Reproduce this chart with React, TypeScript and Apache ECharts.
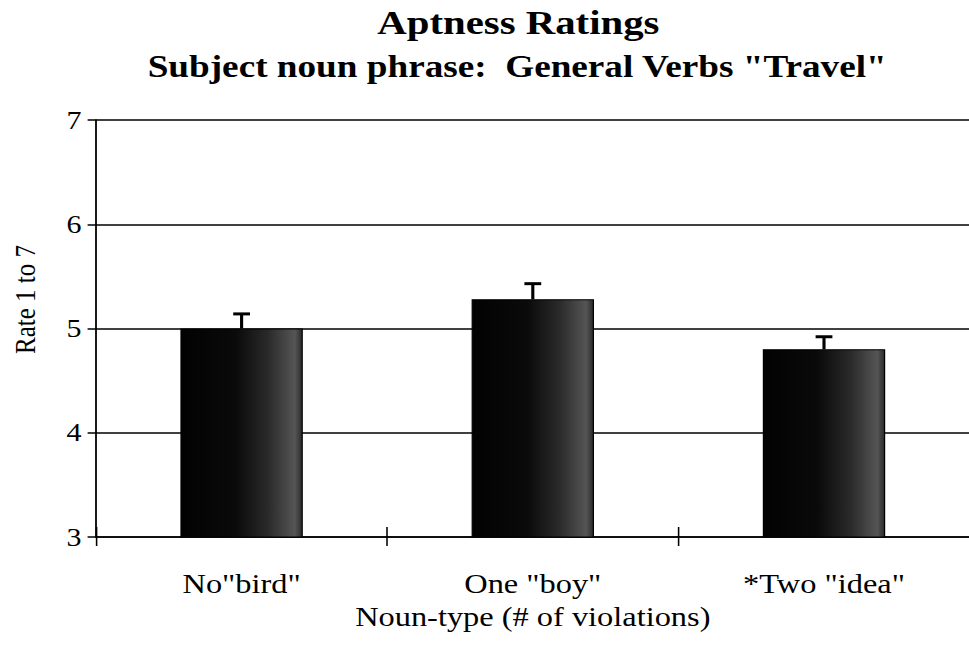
import React, { useEffect, useRef } from "react";
import * as echarts from "echarts";

const categories = ['No"bird"', 'One "boy"', '*Two "idea"'];
const means = [5.0, 5.28, 4.8];
const upperErrors = [5.14, 5.43, 4.92];
const yTicks = [3, 4, 5, 6, 7];

const titleLine1 = "Aptness Ratings";
const titleLine2 = 'Subject noun phrase:  General Verbs "Travel"';
const xName = "Noun-type (# of violations)";
const yName = "Rate 1 to 7";

const FONT = "'Liberation Serif', 'Times New Roman', serif";
// The reference image is horizontally stretched; reproduce it with a CSS scaleX.
const STRETCH = 1.2;
const W = Math.round(969 / STRETCH);
const H = 645;

export default function App() {
  const ref = useRef<HTMLDivElement>(null);
  useEffect(() => {
    if (!ref.current) return;
    const chart = echarts.init(ref.current, null, { renderer: "svg" });
    const barGradient = new echarts.graphic.LinearGradient(0, 0, 1, 0, [
      { offset: 0, color: "#020202" },
      { offset: 0.45, color: "#0a0a0a" },
      { offset: 0.72, color: "#2a2a2a" },
      { offset: 0.94, color: "#555555" },
      { offset: 1, color: "#2a2a2a" },
    ]);
    chart.setOption({
      animation: false,
      backgroundColor: "#ffffff",
      title: [
        {
          text: titleLine1,
          left: 427,
          top: 1,
          textAlign: "center",
          textStyle: { fontFamily: FONT, fontWeight: "bold", fontSize: 34, color: "#000" },
        },
        {
          text: titleLine2,
          left: 426,
          top: 46,
          textAlign: "center",
          textStyle: { fontFamily: FONT, fontWeight: "bold", fontSize: 31, color: "#000" },
        },
      ],
      grid: { left: 75, right: 0, top: 120, bottom: 108 },
      xAxis: [
        {
          type: "category",
          data: categories,
          boundaryGap: true,
          name: xName,
          nameLocation: "middle",
          nameGap: 66,
          nameTextStyle: { fontFamily: FONT, fontSize: 27, color: "#000" },
          axisLine: { show: true, lineStyle: { color: "#000", width: 1.5 } },
          axisTick: { show: true, length: 9, lineStyle: { color: "#000", width: 1.3 } },
          axisLabel: { fontFamily: FONT, fontSize: 27, color: "#000", margin: 33 },
          splitLine: { show: false },
        },
        {
          type: "category",
          data: categories,
          position: "bottom",
          boundaryGap: true,
          axisLine: { show: false },
          axisTick: { show: true, inside: true, length: 10, lineStyle: { color: "#000", width: 1.3 } },
          axisLabel: { show: false },
          splitLine: { show: false },
        },
      ],
      yAxis: {
        type: "value",
        min: 3,
        max: 7,
        interval: 1,
        name: yName,
        nameLocation: "middle",
        nameGap: 47,
        nameRotate: 90,
        nameTextStyle: { fontFamily: FONT, fontSize: 25, color: "#000", padding: [0, 0, 0, 58] },
        axisLine: { show: true, lineStyle: { color: "#000", width: 1.5 } },
        axisTick: { show: true, length: 7, lineStyle: { color: "#000", width: 1.5 } },
        axisLabel: {
          fontFamily: FONT,
          fontSize: 25,
          color: "#000",
          margin: 12,
          formatter: (v: number) => (yTicks.includes(v) ? String(v) : ""),
        },
        splitLine: { show: true, lineStyle: { color: "#000", width: 1.5 } },
      },
      series: [
        {
          type: "bar",
          data: means,
          barWidth: 102,
          itemStyle: { color: barGradient, borderColor: "#000", borderWidth: 1 },
          z: 2,
        },
        {
          type: "custom",
          data: categories.map((_, i) => [i, means[i], upperErrors[i]]),
          z: 3,
          renderItem: (params: any, api: any) => {
            const idx = api.value(0);
            const base = api.coord([idx, api.value(1)]);
            const top = api.coord([idx, api.value(2)]);
            const half = 7;
            return {
              type: "group",
              children: [
                {
                  type: "line",
                  shape: { x1: base[0], y1: base[1], x2: top[0], y2: top[1] },
                  style: { stroke: "#000", lineWidth: 2.6 },
                },
                {
                  type: "line",
                  shape: { x1: top[0] - half, y1: top[1], x2: top[0] + half, y2: top[1] },
                  style: { stroke: "#000", lineWidth: 3 },
                },
              ],
            };
          },
        },
      ],
    });
    return () => chart.dispose();
  }, []);
  return (
    <div
      ref={ref}
      style={{
        width: W,
        height: H,
        position: "absolute",
        left: 0,
        top: 0,
        transform: `scaleX(${STRETCH})`,
        transformOrigin: "0 0",
      }}
    />
  );
}
